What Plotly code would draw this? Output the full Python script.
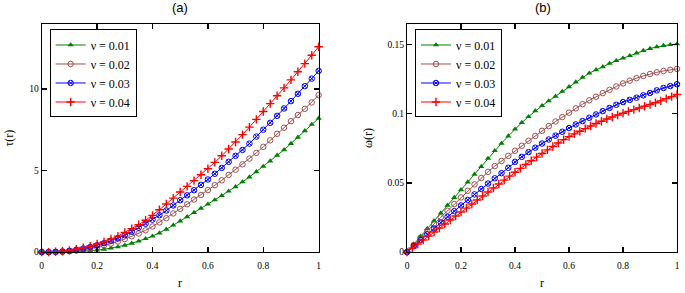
import numpy as np
import plotly.graph_objects as go

# ---------------- data ----------------
legend_labels = ["ν = 0.01", "ν = 0.02", "ν = 0.03", "ν = 0.04"]

r_a = np.linspace(0, 1, 41)          # sampling grid, panel (a)
tau_nu001 = [0, 0, 0.0, 0.01, 0.02, 0.04, 0.06, 0.08, 0.12, 0.17, 0.24, 0.32, 0.42, 0.54, 0.67,
             0.82, 0.98, 1.17, 1.4, 1.65, 1.9, 2.16, 2.42, 2.68, 2.94, 3.2, 3.46, 3.73, 4.0, 4.3,
             4.6, 4.92, 5.25, 5.58, 5.93, 6.27, 6.65, 7.03, 7.43, 7.82, 8.2]
tau_nu002 = [0, 0, 0.01, 0.03, 0.06, 0.1, 0.16, 0.23, 0.31, 0.41, 0.52, 0.65, 0.8, 0.97, 1.14,
             1.34, 1.57, 1.82, 2.08, 2.37, 2.65, 2.93, 3.22, 3.5, 3.8, 4.1, 4.4, 4.73, 5.05, 5.38,
             5.73, 6.08, 6.45, 6.85, 7.25, 7.62, 8.02, 8.4, 8.78, 9.17, 9.62]
tau_nu003 = [0, 0, 0.02, 0.04, 0.08, 0.14, 0.22, 0.31, 0.42, 0.55, 0.7, 0.86, 1.04, 1.25, 1.5,
             1.74, 1.99, 2.26, 2.55, 2.86, 3.18, 3.48, 3.79, 4.12, 4.45, 4.8, 5.16, 5.53, 5.9, 6.26,
             6.65, 7.08, 7.5, 7.92, 8.35, 8.8, 9.25, 9.7, 10.17, 10.63, 11.1]
tau_nu004 = [0, 0, 0.02, 0.05, 0.11, 0.18, 0.27, 0.37, 0.5, 0.63, 0.8, 0.98, 1.2, 1.44, 1.68,
             1.95, 2.25, 2.6, 2.95, 3.31, 3.68, 4.03, 4.38, 4.74, 5.11, 5.5, 5.9, 6.32, 6.75, 7.2,
             7.66, 8.13, 8.61, 9.1, 9.58, 10.06, 10.55, 11.05, 11.55, 12.06, 12.58]

r_b = np.linspace(0, 1, 41)          # sampling grid, panel (b)
r_b_fine = np.linspace(0, 1, 51)     # finer grid used for nu = 0.04 in panel (b)
omega_nu001 = [0, 0.0057, 0.0114, 0.017, 0.0226, 0.0282, 0.0338, 0.0394, 0.045, 0.0506, 0.0562,
               0.0618, 0.0676, 0.0732, 0.0786, 0.0838, 0.0888, 0.0935, 0.0978, 0.102, 0.1057,
               0.1092, 0.1125, 0.116, 0.1194, 0.1228, 0.1262, 0.1292, 0.1316, 0.1338, 0.1362,
               0.1382, 0.14, 0.1418, 0.1437, 0.1455, 0.147, 0.1482, 0.1491, 0.1498, 0.1503]
omega_nu002 = [0, 0.0052, 0.0104, 0.0154, 0.0203, 0.0251, 0.0299, 0.0347, 0.0395, 0.0443, 0.0489,
               0.0535, 0.058, 0.0621, 0.0658, 0.0695, 0.0732, 0.0768, 0.0804, 0.0839, 0.0876,
               0.091, 0.0943, 0.0975, 0.1007, 0.1038, 0.1068, 0.1096, 0.1122, 0.1148, 0.1172,
               0.1196, 0.1218, 0.1238, 0.1256, 0.1272, 0.1286, 0.1298, 0.1308, 0.1316, 0.1323]
omega_nu003 = [0, 0.0043, 0.0086, 0.0129, 0.0171, 0.0213, 0.0255, 0.0296, 0.0337, 0.0377, 0.0417,
               0.0456, 0.0495, 0.0533, 0.057, 0.0609, 0.0652, 0.0688, 0.0722, 0.0754, 0.0784,
               0.0813, 0.0841, 0.0869, 0.0896, 0.0922, 0.0946, 0.097, 0.0994, 0.1018, 0.1041,
               0.1064, 0.1083, 0.1099, 0.1115, 0.1132, 0.1149, 0.1168, 0.1185, 0.1199, 0.1212]
omega_nu004 = [0, 0.0029, 0.0058, 0.0087, 0.0116, 0.0145, 0.0174, 0.0203, 0.0232, 0.0261, 0.029,
               0.0318, 0.0347, 0.0376, 0.0405, 0.0434, 0.0463, 0.0492, 0.052, 0.0549, 0.0577,
               0.0605, 0.0633, 0.066, 0.0686, 0.0712, 0.0738, 0.0763, 0.0788, 0.0812, 0.0834,
               0.0854, 0.0873, 0.0892, 0.0911, 0.0929, 0.0945, 0.0961, 0.0976, 0.099, 0.1003,
               0.1016, 0.1029, 0.1041, 0.1053, 0.1066, 0.1079, 0.1092, 0.1108, 0.1123, 0.1138]

x_ticks = [0, 0.2, 0.4, 0.6, 0.8, 1]
x_ticktext = ["0", "0.2", "0.4", "0.6", "0.8", "1"]
tau_ticks = [0, 5, 10]
tau_ticktext = ["0", "5", "10"]
omega_ticks = [0, 0.05, 0.1, 0.15]
omega_ticktext = ["0", "0.05", "0.1", "0.15"]

# ---------------- styles ----------------
W, H = 685, 293
colors = ["#008000", "#A0504D", "#0000FF", "#FF0000"]
symbols = ["triangle-up", "circle-open", "circle-x-open", "cross-thin-open"]
msizes = [5.5, 5.5, 5.5, 6]
mlw = [0, 1, 1, 1.4]
SERIF = "Liberation Serif, Times New Roman, serif"
SANS = "Liberation Sans, Arial, sans-serif"

fig = go.Figure()

def add_series(x, y, i, xa, ya, legend):
    fig.add_trace(go.Scatter(
        x=x, y=y, mode="lines+markers", name=legend_labels[i],
        xaxis=xa, yaxis=ya, legend=legend, cliponaxis=False,
        line=dict(color=colors[i], width=1),
        marker=dict(symbol=symbols[i], size=msizes[i], color=colors[i],
                    line=dict(color=colors[i], width=mlw[i])),
        hoverinfo="skip"))

for i, ys in enumerate([tau_nu001, tau_nu002, tau_nu003, tau_nu004]):
    add_series(r_a, ys, i, "x", "y", "legend")
for i, (xs, ys) in enumerate([(r_b, omega_nu001), (r_b, omega_nu002),
                              (r_b, omega_nu003), (r_b_fine, omega_nu004)]):
    add_series(xs, ys, i, "x2", "y2", "legend2")

axis_common = dict(showline=True, linecolor="black", linewidth=1, mirror="ticks",
                   ticks="inside", ticklen=5, tickwidth=1.5, tickcolor="black",
                   showgrid=False, zeroline=False,
                   tickfont=dict(family=SERIF, size=9.5, color="black"))

xl0, xl1 = 40, 319
xr0, xr1 = 408, 680
yt, yb = 24, 256.5
ydom = [1 - yb / H, 1 - yt / H]

legend_common = dict(xanchor="left", yanchor="top", bordercolor="black", borderwidth=1,
                     bgcolor="white", font=dict(family=SERIF, size=12, color="black"),
                     tracegroupgap=0, itemwidth=30)

fig.update_layout(
    width=W, height=H, margin=dict(l=0, r=0, t=0, b=0),
    paper_bgcolor="white", plot_bgcolor="white",
    xaxis=dict(domain=[xl0 / W, xl1 / W], range=[0, 1], anchor="y", ticklabelstandoff=4,
               tickvals=x_ticks, ticktext=x_ticktext, **axis_common),
    yaxis=dict(domain=ydom, range=[0, 14], anchor="x",
               tickvals=tau_ticks, ticktext=tau_ticktext, **axis_common),
    xaxis2=dict(domain=[xr0 / W, xr1 / W], range=[0, 1], anchor="y2", ticklabelstandoff=4,
                tickvals=x_ticks, ticktext=x_ticktext, **axis_common),
    yaxis2=dict(domain=ydom, range=[0, 0.165], anchor="x2",
                tickvals=omega_ticks, ticktext=omega_ticktext, **axis_common),
    legend=dict(x=48 / W, y=1 - 30 / H, **legend_common),
    legend2=dict(x=416 / W, y=1 - 30 / H, **legend_common),
    showlegend=True,
)

ann = [
    dict(text="(a)", x=(xl0 + xl1) / 2 / W, y=1 - 8 / H, font=dict(family=SANS, size=13)),
    dict(text="(b)", x=(xr0 + xr1) / 2 / W + 0.5 / W, y=1 - 8 / H, font=dict(family=SANS, size=13)),
    dict(text="r", x=(xl0 + xl1) / 2 / W, y=1 - 288 / H, font=dict(family=SERIF, size=12)),
    dict(text="r", x=(xr0 + xr1) / 2 / W, y=1 - 288 / H, font=dict(family=SERIF, size=12)),
    dict(text="τ(r)", x=7 / W, y=1 - 140 / H, textangle=-90, font=dict(family=SERIF, size=12)),
    dict(text="ω(r)", x=368 / W, y=1 - 140 / H, textangle=-90, font=dict(family=SERIF, size=12)),
]
for a in ann:
    a.update(xref="paper", yref="paper", showarrow=False, xanchor="center", yanchor="middle")
    a["font"]["color"] = "black"
fig.update_layout(annotations=ann)

fig.write_html("out.html", config={"displayModeBar": False, "staticPlot": True},
               post_script="document.body.style.margin='0px';document.body.style.padding='0px';"
                           "document.body.style.overflow='hidden';")
